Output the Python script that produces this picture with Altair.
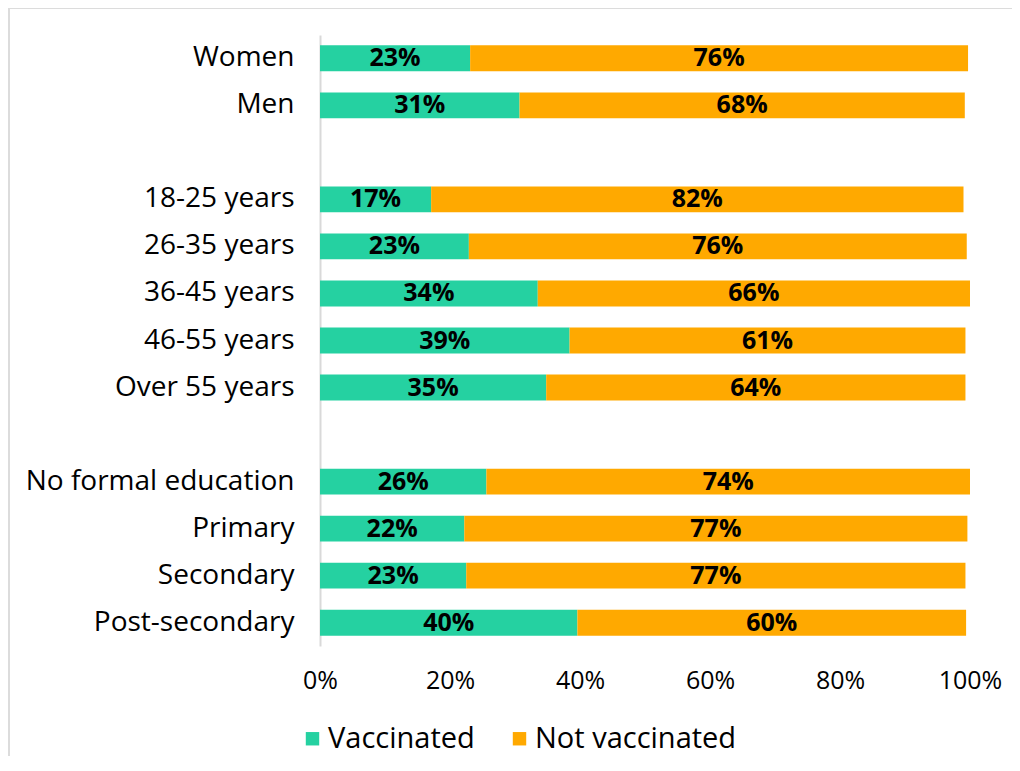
import altair as alt
import pandas as pd

categories = ["Women", "Men", "18-25 years", "26-35 years", "36-45 years",
              "46-55 years", "Over 55 years", "No formal education",
              "Primary", "Secondary", "Post-secondary"]
row_order = ["Women", "Men", " ", "18-25 years", "26-35 years", "36-45 years",
             "46-55 years", "Over 55 years", "  ", "No formal education",
             "Primary", "Secondary", "Post-secondary"]
vaccinated = [23.1, 30.7, 17.1, 22.9, 33.5, 38.4, 34.8, 25.6, 22.2, 22.5, 39.6]
not_vaccinated = [76.6, 68.5, 81.9, 76.6, 66.5, 60.9, 64.5, 74.4, 77.4, 76.8, 59.8]
vacc_labels = ["23%", "31%", "17%", "23%", "34%", "39%", "35%", "26%", "22%", "23%", "40%"]
not_labels = ["76%", "68%", "82%", "76%", "66%", "61%", "64%", "74%", "77%", "77%", "60%"]
series = ["Vaccinated", "Not vaccinated"]
colors = ["#25D1A1", "#FFA900"]
x_ticks = [0, 20, 40, 60, 80, 100]

rows = []
for c, v, n, lv, ln in zip(categories, vaccinated, not_vaccinated, vacc_labels, not_labels):
    rows.append({"category": c, "status": series[0], "start": 0, "end": v,
                 "mid": v / 2, "label": lv})
    rows.append({"category": c, "status": series[1], "start": v, "end": v + n,
                 "mid": v + n / 2, "label": ln})
df = pd.DataFrame(rows)

FONT = "Open Sans"

yscale = alt.Scale(domain=row_order, paddingInner=0.45, paddingOuter=0.22)
xscale = alt.Scale(domain=[0, 100], nice=False, zero=True)

bars = alt.Chart(df).mark_bar().encode(
    y=alt.Y("category:N", scale=yscale, sort=row_order,
            axis=alt.Axis(title=None, ticks=False, domain=True, domainColor="#d9d9d9",
                          domainWidth=2, labelFontSize=28, labelFont=FONT,
                          labelColor="#000000", labelPadding=26, grid=False,
                          labelLimit=400)),
    x=alt.X("start:Q", scale=xscale,
            axis=alt.Axis(title=None, values=x_ticks, ticks=False, domain=False,
                          grid=False, labelExpr="datum.value + '%'",
                          labelFlush=False, labelBound=False,
                          labelFontSize=25, labelFont=FONT, labelColor="#000000",
                          labelPadding=22)),
    x2="end:Q",
    color=alt.Color("status:N",
                    scale=alt.Scale(domain=series, range=colors),
                    legend=alt.Legend(title=None, orient="none", legendX=-22,
                                      legendY=689, direction="horizontal",
                                      symbolType="square", symbolSize=180,
                                      symbolStrokeWidth=0, labelFontSize=29,
                                      labelFont=FONT, labelColor="#000000",
                                      labelLimit=500,
                                      columnPadding=30, labelOffset=1)),
)

texts = alt.Chart(df).mark_text(fontWeight="bold", fontSize=25, font=FONT,
                                color="#000000").encode(
    y=alt.Y("category:N", scale=yscale, sort=row_order),
    x=alt.X("mid:Q", scale=xscale),
    text="label:N",
)

frame_data = pd.DataFrame({"k": [0]})
left_border = alt.Chart(frame_data).mark_rule(color="#dcdcdc", strokeWidth=2).encode(
    x=alt.value(-311), x2=alt.value(-311), y=alt.value(-27), y2=alt.value(800))
top_border = alt.Chart(frame_data).mark_rule(color="#dcdcdc", strokeWidth=2).encode(
    x=alt.value(-311), x2=alt.value(800), y=alt.value(-27), y2=alt.value(-27))

chart = alt.layer(bars, texts, left_border, top_border).properties(
    width=650, height=611,
    autosize=alt.AutoSizeParams(type="none"),
    padding={"left": 312, "top": 27, "right": 42, "bottom": 110},
    background="#ffffff",
).configure_view(stroke=None)

chart.save("out.html", embed_options={"renderer": "svg", "actions": False})
